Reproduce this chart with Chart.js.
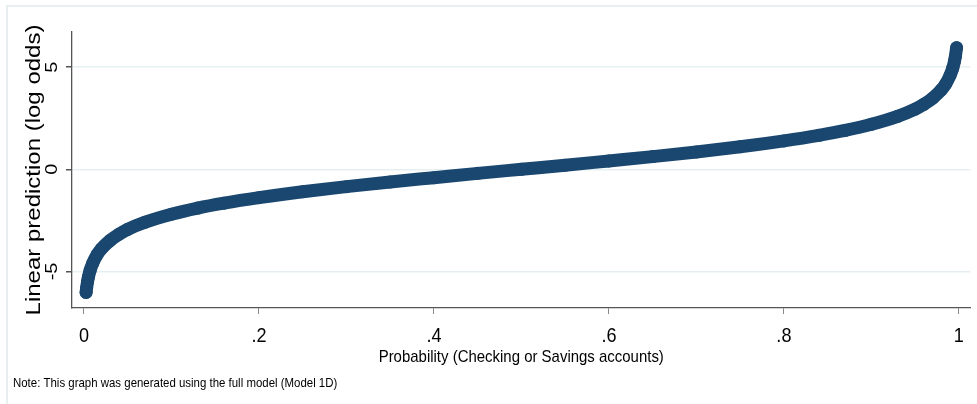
<!DOCTYPE html>
<html>
<head>
<meta charset="utf-8">
<script src="https://cdn.jsdelivr.net/npm/chart.js@4.4.0/dist/chart.umd.min.js"></script>
<style>
html,body{margin:0;padding:0;background:#fff;}
canvas{display:block;}
</style>
</head>
<body>
<canvas id="c" width="977" height="404"></canvas>
<script>
// Data
const probability = [0.0024, 0.003, 0.004, 0.005, 0.007, 0.01, 0.015, 0.02, 0.03, 0.04, 0.05, 0.07, 0.1, 0.13, 0.16, 0.2, 0.25, 0.3, 0.35, 0.4, 0.45, 0.5, 0.55, 0.6, 0.65, 0.7, 0.75, 0.8, 0.84, 0.87, 0.9, 0.93, 0.95, 0.96, 0.97, 0.98, 0.985, 0.99, 0.993, 0.995, 0.996, 0.9974];
const logOdds = [-6.03, -5.81, -5.52, -5.29, -4.95, -4.60, -4.18, -3.89, -3.48, -3.18, -2.94, -2.59, -2.20, -1.90, -1.66, -1.39, -1.10, -0.85, -0.62, -0.41, -0.20, 0.00, 0.20, 0.41, 0.62, 0.85, 1.10, 1.39, 1.66, 1.90, 2.20, 2.59, 2.94, 3.18, 3.48, 3.89, 4.18, 4.60, 4.95, 5.29, 5.52, 5.95];
const xTickValues = [0, 0.2, 0.4, 0.6, 0.8, 1];
const xTickLabels = ["0", ".2", ".4", ".6", ".8", "1"];
const yTickValues = [-5, 0, 5];
const yTickLabels = ["-5", "0", "5"];
const xTitle = "Probability (Checking or Savings accounts)";
const yTitle = "Linear prediction (log odds)";
const noteText = "Note: This graph was generated using the full model (Model 1D)";

const points = probability.map((p, i) => ({x: p, y: logOdds[i]}));
const FONT = "'Liberation Sans', Arial, Helvetica, sans-serif";
const SX = 0.86;

const textPlugin = {
  id: 'texts',
  afterDraw(chart) {
    const ctx = chart.ctx;
    const xs = chart.scales.x, ys = chart.scales.y;
    ctx.save();
    // faint outer frame
    ctx.strokeStyle = '#e7eef0';
    ctx.lineWidth = 2;
    ctx.beginPath();
    ctx.moveTo(7, 404); ctx.lineTo(7, 6); ctx.lineTo(977, 6);
    ctx.stroke();
    ctx.fillStyle = '#000';
    // x tick labels
    ctx.font = "21px " + FONT;
    ctx.textAlign = 'center';
    ctx.textBaseline = 'alphabetic';
    xTickValues.forEach((v, i) => {
      const px = xs.getPixelForValue(v);
      ctx.save(); ctx.translate(px, 342); ctx.scale(SX, 1);
      ctx.fillText(xTickLabels[i], 0, 0); ctx.restore();
    });
    // x title
    ctx.font = "17px " + FONT;
    ctx.save(); ctx.translate((chart.chartArea.left + chart.chartArea.right) / 2, 362); ctx.scale(0.88, 1);
    ctx.fillText(xTitle, 0, 0); ctx.restore();
    // note
    ctx.font = "13px " + FONT;
    ctx.textAlign = 'left';
    ctx.save(); ctx.translate(13, 387); ctx.scale(0.88, 1);
    ctx.fillText(noteText, 0, 0); ctx.restore();
    // y tick labels (rotated)
    ctx.font = "20px " + FONT;
    ctx.textAlign = 'center';
    yTickValues.forEach((v, i) => {
      const py = ys.getPixelForValue(v);
      ctx.save(); ctx.translate(57, py); ctx.scale(SX, 1); ctx.rotate(-Math.PI / 2);
      ctx.fillText(yTickLabels[i], 0, 0); ctx.restore();
    });
    // y title
    ctx.font = "24px " + FONT;
    ctx.save(); ctx.translate(40, (chart.chartArea.top + chart.chartArea.bottom) / 2); ctx.scale(SX, 1); ctx.rotate(-Math.PI / 2);
    ctx.fillText(yTitle, 0, 0); ctx.restore();
    ctx.restore();
  }
};

new Chart(document.getElementById('c'), {
  type: 'scatter',
  data: {
    datasets: [{
      data: points,
      showLine: true,
      borderColor: '#1a476f',
      backgroundColor: '#1a476f',
      borderWidth: 13,
      borderCapStyle: 'round',
      borderJoinStyle: 'round',
      cubicInterpolationMode: 'monotone',
      pointRadius: 6.5,
      pointBorderWidth: 0,
      pointHoverRadius: 6.5,
      clip: false
    }]
  },
  options: {
    responsive: false,
    devicePixelRatio: 1,
    animation: false,
    events: [],
    layout: {padding: {top: 32, right: 6, left: 0, bottom: 0}},
    plugins: {legend: {display: false}, tooltip: {enabled: false}, title: {display: false}},
    scales: {
      x: {
        type: 'linear',
        min: -0.0137,
        max: 1.0133,
        afterFit(s) { s.height = 96; },
        afterBuildTicks(s) { s.ticks = xTickValues.map(v => ({value: v})); },
        ticks: {display: false},
        grid: {drawOnChartArea: false, drawTicks: true, tickLength: 6, tickColor: '#8a8a8a', lineWidth: 1},
        border: {display: true, color: '#555', width: 1.3}
      },
      y: {
        type: 'linear',
        min: -6.79,
        max: 6.72,
        afterFit(s) { s.width = 72; },
        afterBuildTicks(s) { s.ticks = yTickValues.map(v => ({value: v})); },
        ticks: {display: false},
        grid: {drawOnChartArea: true, color: '#e6eff1', lineWidth: 1.5, drawTicks: true, tickLength: 6, tickColor: '#555'},
        border: {display: true, color: '#555', width: 1.3}
      }
    }
  },
  plugins: [textPlugin]
});
</script>
</body>
</html>
